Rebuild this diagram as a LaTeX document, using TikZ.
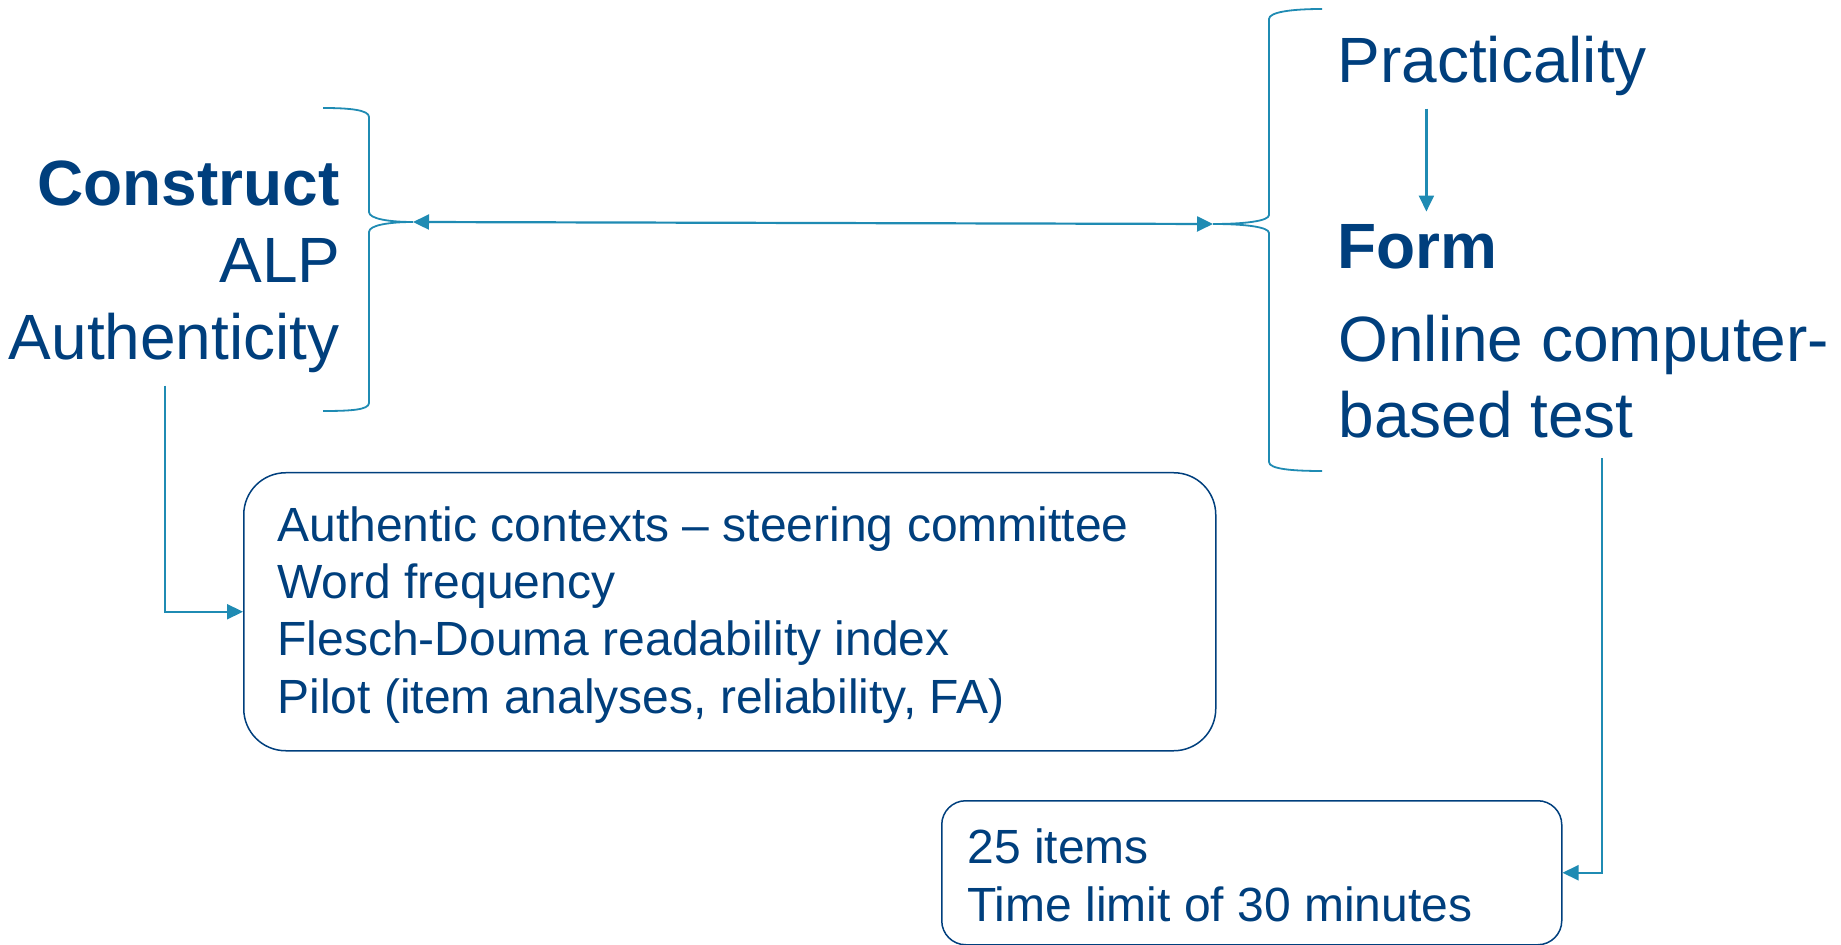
\documentclass[tikz,border=0pt]{standalone}
\usepackage{fontspec}
\setmainfont{Liberation Sans}
\usetikzlibrary{arrows.meta,positioning}

\definecolor{textblue}{RGB}{0,63,125}
\definecolor{linkteal}{RGB}{31,139,179}

\begin{document}
\begin{tikzpicture}[
  x=0.5pt, y=-0.5pt,
  big/.style={font=\fontsize{32}{38}\selectfont, text=textblue, inner sep=0pt},
  item/.style={font=\fontsize{24}{28}\selectfont, text=textblue, inner sep=0pt},
  box/.style={draw=textblue, line width=0.75pt, rounded corners=21pt, inner sep=0pt},
  link/.style={draw=linkteal, line width=1.1pt, -{Triangle[length=8pt,width=7.5pt]}},
  brace/.style={draw=linkteal, line width=0.9pt}
]
  \useasboundingbox (0,0) rectangle (1841,945);

  % left block
  \node[big, anchor=base east, font=\fontsize{32}{38}\selectfont\bfseries] (construct) at (340,206) {Construct};
  \node[big, anchor=base east] (alp) at (341,283) {ALP};
  \node[big, anchor=base east] (authenticity) at (340,360) {Authenticity};

  % right block
  \node[big, anchor=base west] (practicality) at (1337,83) {Practicality};
  \node[big, anchor=base west, font=\fontsize{32}{38}\selectfont\bfseries] (form) at (1337,269) {Form};
  \node[big, anchor=base west] (online) at (1338,362) {Online computer-};
  \node[big, anchor=base west] (based) at (1338,438) {based test};

  % braces
  \draw[brace] (323,108) .. controls (350,108) and (369,110) .. (369,117) -- (369,212)
    .. controls (369,219) and (390,222) .. (413,222)
    .. controls (390,222) and (369,225) .. (369,232) -- (369,403)
    .. controls (369,410) and (350,411) .. (323,411);
  \draw[brace] (1322,9) .. controls (1292,9) and (1269,12) .. (1269,19) -- (1269,215)
    .. controls (1269,221) and (1245,224) .. (1213,224)
    .. controls (1245,224) and (1269,227) .. (1269,233) -- (1269,462)
    .. controls (1269,469) and (1292,471) .. (1322,471);
  \coordinate (ltip) at (413,222);
  \coordinate (rtip) at (1213,224);

  % boxes
  \node[box, minimum width=486pt, minimum height=139pt, anchor=north west] (checks) at (243,472) {};
  \node[item, anchor=base west] (contexts) at (277,542) {Authentic contexts -- steering committee};
  \node[item, anchor=base west] (frequency) at (277,599) {Word frequency};
  \node[item, anchor=base west] (flesch) at (277,656) {Flesch-Douma readability index};
  \node[item, anchor=base west] (pilot) at (277,713) {Pilot (item analyses, reliability, FA)};

  \node[box, rounded corners=12pt, minimum width=310pt, minimum height=72pt, anchor=north west] (limits) at (941,800) {};
  \node[item, anchor=base west] (items) at (967,863) {25 items};
  \node[item, anchor=base west] (minutes) at (967,921) {Time limit of 30 minutes};

  % connectors
  \draw[link, {Triangle[length=8pt,width=7.5pt]}-{Triangle[length=8pt,width=7.5pt]}] (ltip) -- (rtip);
  \draw[link, shorten <=6pt, shorten >=6.5pt] ([xshift=4.5pt]practicality.south -| form.north) -- ([xshift=4.5pt]form.north);
  \draw[link, shorten <=6pt] ([xshift=-4.5pt]authenticity.south) |- (checks.west);
  \draw[link] ([xshift=-16pt, yshift=-9.5pt]based.south east) |- (limits.east);
\end{tikzpicture}
\end{document}
